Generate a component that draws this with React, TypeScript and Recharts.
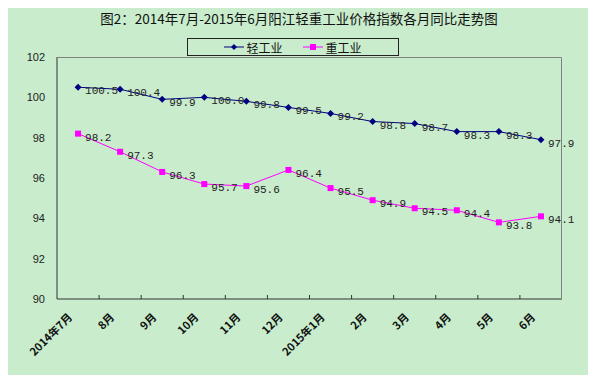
import {
  LabelList,
  Line,
  LineChart,
  XAxis,
  YAxis,
} from "recharts";

// 2014年7月 - 2015年6月 阳江轻重工业价格指数（同比）
const months = [
  "2014年7月", "8月", "9月", "10月", "11月", "12月",
  "2015年1月", "2月", "3月", "4月", "5月", "6月",
];
const lightIndustry = [100.5, 100.4, 99.9, 100.0, 99.8, 99.5, 99.2, 98.8, 98.7, 98.3, 98.3, 97.9];
const heavyIndustry = [98.2, 97.3, 96.3, 95.7, 95.6, 96.4, 95.5, 94.9, 94.5, 94.4, 93.8, 94.1];
const yTicks = [90, 92, 94, 96, 98, 100, 102];

const LIGHT = "#000080";
const HEAVY = "#FF00FF";
const BG = "#C8ECCC";

const W = 582;
const H = 375;
const MARGIN = { top: 57, right: 28, bottom: 6, left: 9 };
const Y_W = 40;
const X_H = 70;
const PLOT_X = MARGIN.left + Y_W;
const PLOT_W = W - MARGIN.left - MARGIN.right - Y_W;
const PLOT_H = H - MARGIN.top - MARGIN.bottom - X_H;
const BAND = PLOT_W / months.length;

const data = months.map((m, i) => ({ month: m, light: lightIndustry[i], heavy: heavyIndustry[i] }));

const labelFont = "'Liberation Mono', 'DejaVu Sans Mono', monospace";

function MonthTick({ x, y, payload, index }: any) {
  const left = x - BAND / 2;
  return (
    <g>
      {index > 0 && <line x1={left} x2={left} y1={y} y2={y - 4} stroke="#333" />}
      <text
        x={x - 5}
        y={y + 19}
        transform={`rotate(-45, ${x - 5}, ${y + 19})`}
        textAnchor="end"
        fontSize={11}
        fontWeight="bold"
        fill="#111"
        fontFamily="'Noto Sans CJK SC', sans-serif"
      >
        {payload.value}
      </text>
    </g>
  );
}

function ValueLabel({ x, y, value }: any) {
  return (
    <text x={x + 7} y={y + 7} fontSize={11} fill="#222" fontFamily={labelFont}>
      {Number(value).toFixed(1)}
    </text>
  );
}

function Diamond({ cx, cy, index }: any) {
  return (
    <path
      key={`d-${index}`}
      d={`M${cx},${cy - 3.5} L${cx + 3.5},${cy} L${cx},${cy + 3.5} L${cx - 3.5},${cy} Z`}
      fill={LIGHT}
    />
  );
}

function Square({ cx, cy, index }: any) {
  return <rect key={`s-${index}`} x={cx - 3} y={cy - 3} width={6} height={6} fill={HEAVY} />;
}

function LegendBox() {
  const item = (color: string, marker: "d" | "s", text: string) => (
    <span style={{ display: "inline-flex", alignItems: "center", gap: 2 }}>
      <svg width={20} height={10}>
        <line x1={0} x2={20} y1={5} y2={5} stroke={color} strokeWidth={1} />
        {marker === "d" ? (
          <path d="M10,2 L13,5 L10,8 L7,5 Z" fill={color} />
        ) : (
          <rect x={7} y={2} width={6} height={6} fill={color} />
        )}
      </svg>
      <span>{text}</span>
    </span>
  );
  return (
    <div
      style={{
        position: "absolute",
        left: 179,
        top: 38,
        width: 212,
        height: 18,
        border: "1px solid #222",
        display: "flex",
        alignItems: "center",
        justifyContent: "space-around",
        padding: "0 26px",
        boxSizing: "border-box",
        fontSize: 12,
        fontFamily: "'Noto Sans CJK SC', sans-serif",
        color: "#111",
        zIndex: 2,
      }}
    >
      {item(LIGHT, "d", "轻工业")}
      {item(HEAVY, "s", "重工业")}
    </div>
  );
}

export default function App() {
  return (
    <div style={{ position: "relative", width: W, height: H, marginTop: -8, background: BG }}>
      <div
        style={{
          position: "absolute",
          top: 8,
          left: 0,
          width: W,
          textAlign: "center",
          fontSize: 13.5,
          fontFamily: "'Noto Sans CJK SC', sans-serif",
          color: "#111",
          zIndex: 2,
        }}
      >
        图2：2014年7月-2015年6月阳江轻重工业价格指数各月同比走势图
      </div>
      <LegendBox />
      {/* grey top and right edges of the plot frame */}
      <svg
        width={W}
        height={H}
        style={{ position: "absolute", left: 0, top: 0, zIndex: 3, pointerEvents: "none" }}
      >
        <polyline
          points={`${PLOT_X},${MARGIN.top + 0.5} ${PLOT_X + PLOT_W - 0.5},${MARGIN.top + 0.5} ${PLOT_X + PLOT_W - 0.5},${MARGIN.top + PLOT_H}`}
          fill="none"
          stroke="#808080"
          strokeWidth={1}
        />
      </svg>
      <LineChart width={W} height={H} data={data} margin={MARGIN}>
        <XAxis
          dataKey="month"
          interval={0}
          height={X_H}
          tickSize={0}
          tickMargin={0}
          padding={{ left: BAND / 2, right: BAND / 2 }}
          axisLine={{ stroke: "#333" }}
          tick={<MonthTick />}
        />
        <YAxis
          domain={[90, 102]}
          ticks={yTicks}
          width={Y_W}
          tickLine={false}
          tickMargin={6}
          axisLine={{ stroke: "#333" }}
          tick={{ fill: "#222", fontSize: 11, fontFamily: "'Liberation Sans', Arial, sans-serif" }}
        />
        <Line
          dataKey="light"
          name="轻工业"
          type="linear"
          stroke={LIGHT}
          strokeWidth={1}
          dot={<Diamond />}
          activeDot={false}
          isAnimationActive={false}
        >
          <LabelList dataKey="light" content={<ValueLabel />} />
        </Line>
        <Line
          dataKey="heavy"
          name="重工业"
          type="linear"
          stroke={HEAVY}
          strokeWidth={1}
          dot={<Square />}
          activeDot={false}
          isAnimationActive={false}
        >
          <LabelList dataKey="heavy" content={<ValueLabel />} />
        </Line>
      </LineChart>
    </div>
  );
}
